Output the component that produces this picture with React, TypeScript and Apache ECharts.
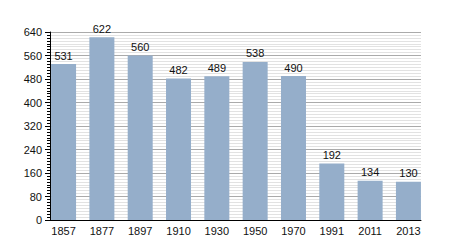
import React, { useEffect, useRef } from "react";
import * as echarts from "echarts";

const years = ["1857", "1877", "1897", "1910", "1930", "1950", "1970", "1991", "2011", "2013"];
const population = [531, 622, 560, 482, 489, 538, 490, 192, 134, 130];
const yMin = 0;
const yMax = 640;
const yStep = 80;

export default function App() {
  const ref = useRef<HTMLDivElement>(null);
  useEffect(() => {
    if (!ref.current) return;
    const chart = echarts.init(ref.current, null, { renderer: "svg" });
    const font = "Liberation Sans, Arial, sans-serif";
    chart.setOption({
      animation: false,
      grid: [
        { left: 50, right: 29, top: 32, bottom: 30 },
        { left: 44.4, right: 22.4, top: 32, bottom: 30 },
      ],
      xAxis: [
        {
          gridIndex: 0,
          type: "category",
          data: years,
          axisLine: { show: true, lineStyle: { color: "#000", width: 1 } },
          axisTick: { show: false },
          axisLabel: { show: false },
          splitLine: { show: false },
        },
        {
          gridIndex: 1,
          type: "category",
          data: years,
          axisLine: { show: false },
          axisTick: { show: false },
          axisLabel: { color: "#111", fontSize: 11, fontFamily: font, margin: 5 },
        },
      ],
      yAxis: [
        {
          gridIndex: 0,
          type: "value",
          min: yMin,
          max: yMax,
          interval: yStep,
          axisLine: { show: true, lineStyle: { color: "#000", width: 1 } },
          axisTick: { show: true, length: 5, lineStyle: { color: "#000" } },
          minorTick: { show: true, splitNumber: 8, length: 3, lineStyle: { color: "#000" } },
          axisLabel: { color: "#111", fontSize: 11, fontFamily: font, margin: 8 },
          splitLine: { show: true, lineStyle: { color: "#aaaaaa", width: 1 } },
          minorSplitLine: { show: true, lineStyle: { color: "#e2e2e2", width: 1 } },
        },
        {
          gridIndex: 1,
          type: "value",
          min: yMin,
          max: yMax,
          interval: yStep,
          show: false,
          splitLine: { show: false },
        },
      ],
      series: [
        {
          type: "bar",
          xAxisIndex: 1,
          yAxisIndex: 1,
          data: population,
          barWidth: 25,
          itemStyle: { color: "#95aeca" },
          label: {
            show: true,
            position: "top",
            distance: 3,
            color: "#111",
            fontSize: 11,
            fontFamily: font,
          },
        },
      ],
    });
    return () => chart.dispose();
  }, []);
  return (
    <div
      ref={ref}
      style={{ position: "absolute", left: 0, top: 0, width: 450, height: 250 }}
    />
  );
}
